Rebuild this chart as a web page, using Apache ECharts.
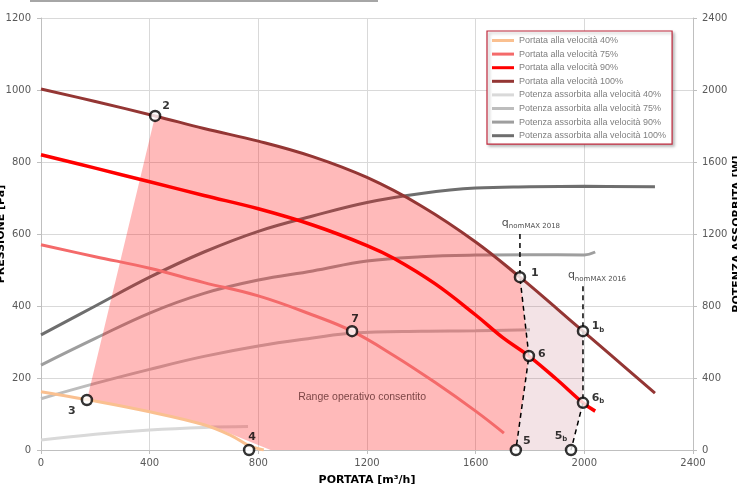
<!DOCTYPE html>
<html>
<head>
<meta charset="utf-8">
<script src="https://cdn.jsdelivr.net/npm/echarts@6/dist/echarts.min.js"></script>
<style>
html, body { margin: 0; padding: 0; background: #fff; }
#chart { width: 737px; height: 484px; }
</style>
</head>
<body>
<div id="chart"></div>
<script>
// curve names (legend order)
const portataNames = ['Portata alla velocità 40%', 'Portata alla velocità 75%', 'Portata alla velocità 90%', 'Portata alla velocità 100%'];
const potenzaNames = ['Potenza assorbita alla velocità 40%', 'Potenza assorbita alla velocità 75%', 'Potenza assorbita alla velocità 90%', 'Potenza assorbita alla velocità 100%'];

// pressure curves [m3/h, Pa]
const portata40 = [[0,162],[169,140],[400,106],[600,70],[700,40],[766,12],[820,0]];
const portata75 = [[0,570],[200,537],[400,505],[600,465],[800,428],[1000,375],[1145,330],[1300,262],[1450,188],[1600,108],[1704,47]];
const portata90 = [[0,820],[200,783],[400,745],[600,707],[800,670],[1000,625],[1200,568],[1300,532],[1450,462],[1600,375],[1700,312],[1796,261],[1900,195],[1995,131],[2040,108]];
const portata100 = [[0,1003],[200,968],[420,928],[600,893],[800,858],[1000,815],[1200,757],[1400,678],[1600,578],[1763,480],[1900,392],[1995,330],[2100,262],[2260,158]];

// absorbed power curves [m3/h, W]
const potenza40 = [[0,55],[200,88],[400,111],[600,125],[762,130]];
const potenza75 = [[0,285],[200,370],[400,448],[600,520],[800,578],[1000,622],[1150,650],[1400,660],[1600,662],[1800,668]];
const potenza90 = [[0,472],[200,620],[400,761],[600,870],[800,944],[1000,995],[1200,1050],[1400,1074],[1600,1083],[1800,1085],[2000,1084],[2040,1100]];
const potenza100 = [[0,640],[200,800],[400,960],[600,1100],[800,1215],[1000,1300],[1200,1375],[1400,1425],[1600,1455],[1800,1462],[2000,1465],[2260,1462]];

// operating points
const pointLabels = ['1', '1b', '2', '3', '4', '5', '5b', '6', '6b', '7'];
const pointX = [1763, 1995, 420, 169, 766, 1748, 1951, 1796, 1995, 1145];
const pointY = [480, 330, 928, 139, 0, 0, 0, 261, 131, 330];

// operating ranges (polygon vertices)
const rangeMain = [[169,139],[420,928],[600,893],[800,858],[1000,815],[1200,757],[1400,678],[1600,578],[1763,480],[1796,261],[1748,0],[845,0],[622,68],[400,106]];
const rangeExt = [[1763,480],[1900,392],[1995,330],[1995,131],[1951,0],[1748,0],[1796,261]];

// qnomMAX limits
const q2018 = [[1763,600],[1763,480],[1796,261],[1748,0]];
const q2016 = [[1995,455],[1995,330],[1995,131],[1951,0]];

const xTicks = { min: 0, max: 2400, step: 400 };
const yTicks = { min: 0, max: 1200, step: 200 };
const y2Ticks = { min: 0, max: 2400, step: 400 };

const chart = echarts.init(document.getElementById('chart'));

const FONT = 'DejaVu Sans';

function curve(name, data, color, width, yIdx, z) {
  return {
    name: name, type: 'line', data: data, yAxisIndex: yIdx,
    smooth: 0.4, symbol: 'none', z: z, silent: true,
    lineStyle: { color: color, width: width },
    itemStyle: { color: color }
  };
}

function polygon(verts, fill, z) {
  return {
    type: 'custom', silent: true, z: z,
    data: [[0, 0]],
    renderItem: function (params, api) {
      return {
        type: 'polygon',
        shape: { points: verts.map(function (v) { return api.coord(v); }) },
        style: { fill: fill }
      };
    }
  };
}

function dashed(data) {
  return {
    type: 'line', data: data, symbol: 'none', z: 5, silent: true,
    lineStyle: { color: '#000', width: 1.5, type: [5, 4] }
  };
}

const labelOffsets = {
  '1': [15, -4], '1b': [15, -5], '2': [11, -10], '3': [-15, 11], '4': [3, -13],
  '5': [11, -9], '5b': [-10, -14], '6': [13, -2], '6b': [15, -5], '7': [3, -12]
};

const subRich = {
  n: { fontSize: 11, fontWeight: 'bold', color: '#000', fontFamily: FONT, lineHeight: 14 },
  s: { fontSize: 7, fontWeight: 'bold', color: '#000', fontFamily: FONT, verticalAlign: 'bottom', lineHeight: 14 }
};

const qRich = {
  q: { fontSize: 11, color: '#222', fontFamily: FONT, lineHeight: 14 },
  s: { fontSize: 7, color: '#222', fontFamily: FONT, verticalAlign: 'bottom', lineHeight: 14 }
};

function textAt(pos, formatter, rich, offset, style) {
  return {
    type: 'scatter', data: [pos], symbolSize: 0, z: 7, silent: true,
    label: Object.assign({ show: true, position: 'inside', offset: offset, formatter: formatter, rich: rich }, style || {})
  };
}

const series = [
  curve(potenzaNames[0], potenza40, '#d9d9d9', 3, 1, 2),
  curve(potenzaNames[1], potenza75, '#bdbdbd', 3, 1, 2),
  curve(potenzaNames[2], potenza90, '#9e9e9e', 3, 1, 2),
  curve(potenzaNames[3], potenza100, '#6e6e6e', 3, 1, 2),
  polygon(rangeExt, 'rgba(160,40,60,0.13)', 3),
  polygon(rangeMain, 'rgba(255,0,0,0.27)', 3),
  curve(portataNames[0], portata40, '#fac090', 3, 0, 4),
  curve(portataNames[1], portata75, '#f46a6a', 3, 0, 4),
  curve(portataNames[2], portata90, '#ff0000', 3.5, 0, 4),
  curve(portataNames[3], portata100, '#943634', 3, 0, 4),
  dashed(q2018),
  dashed(q2016),
  {
    type: 'scatter', z: 6, silent: true,
    symbol: 'circle', symbolSize: 10,
    itemStyle: { color: '#fff', borderColor: '#000', borderWidth: 2.5 },
    data: pointX.map(function (x, i) {
      return { value: [x, pointY[i]], label: { offset: labelOffsets[pointLabels[i]] } };
    }),
    label: {
      show: true, position: 'inside',
      formatter: function (p) {
        const t = pointLabels[p.dataIndex];
        return t.length > 1 ? '{n|' + t[0] + '}{s|' + t.slice(1) + '}' : '{n|' + t + '}';
      },
      rich: subRich
    }
  },
  textAt(q2018[0], '{q|q}{s|nomMAX 2018}', qRich, [11, -11]),
  textAt(q2016[0], '{q|q}{s|nomMAX 2016}', qRich, [14, -11]),
  textAt([1182, 147], 'Range operativo consentito', null, [0, 0],
    { color: '#5a2828', fontSize: 10.5, fontFamily: 'Liberation Sans' })
];

const plain = function (v) { return String(v); };

chart.setOption({
  animation: false,
  backgroundColor: '#fff',
  grid: { left: 41, right: 44, top: 18, bottom: 34, containLabel: false, outerBoundsMode: 'none' },
  legend: {
    data: portataNames.concat(potenzaNames),
    orient: 'vertical',
    left: 487, top: 31,
    icon: 'rect',
    itemWidth: 22, itemHeight: 3, itemGap: 4.6,
    padding: [5, 6, 4, 5],
    backgroundColor: '#fff',
    borderColor: '#c0283c', borderWidth: 1.2,
    shadowColor: 'rgba(0,0,0,0.3)', shadowBlur: 3, shadowOffsetX: 2, shadowOffsetY: 2,
    textStyle: { color: '#808080', fontSize: 9, fontFamily: 'Liberation Sans' },
    selectedMode: false
  },
  xAxis: {
    type: 'value', min: xTicks.min, max: xTicks.max, interval: xTicks.step,
    name: 'PORTATA [m³/h]', nameLocation: 'middle', nameGap: 25, nameMoveOverlap: false,
    nameTextStyle: { color: '#000', fontSize: 11, fontWeight: 'bold', fontFamily: FONT },
    axisLine: { lineStyle: { color: '#bfbfbf' } },
    axisTick: { show: true, length: 4, lineStyle: { color: '#bfbfbf' } },
    axisLabel: { color: '#595959', fontSize: 10, fontFamily: FONT, margin: 8, formatter: plain },
    splitLine: { show: true, lineStyle: { color: '#d9d9d9' } }
  },
  yAxis: [
    {
      type: 'value', min: yTicks.min, max: yTicks.max, interval: yTicks.step,
      name: 'PRESSIONE [Pa]', nameLocation: 'middle', nameGap: 34, nameMoveOverlap: false,
      nameTextStyle: { color: '#000', fontSize: 11, fontWeight: 'bold', fontFamily: FONT },
      axisLine: { show: true, lineStyle: { color: '#bfbfbf' } },
      axisTick: { show: true, length: 4, lineStyle: { color: '#bfbfbf' } },
      axisLabel: { color: '#595959', fontSize: 10, fontFamily: FONT, margin: 10, formatter: plain },
      splitLine: { show: true, lineStyle: { color: '#d9d9d9' } }
    },
    {
      type: 'value', min: y2Ticks.min, max: y2Ticks.max, interval: y2Ticks.step,
      position: 'right',
      name: 'POTENZA ASSORBITA [W]', nameLocation: 'middle', nameGap: 39, nameMoveOverlap: false,
      nameTextStyle: { color: '#000', fontSize: 11, fontWeight: 'bold', fontFamily: FONT },
      axisLine: { show: true, lineStyle: { color: '#bfbfbf' } },
      axisTick: { show: true, length: 4, lineStyle: { color: '#bfbfbf' } },
      axisLabel: { color: '#595959', fontSize: 10, fontFamily: FONT, margin: 9, formatter: plain },
      splitLine: { show: false }
    }
  ],
  graphic: [
    { type: 'rect', left: 30, top: 0, shape: { width: 348, height: 2 }, style: { fill: '#a6a6a6' }, silent: true }
  ],
  series: series
});
</script>
</body>
</html>
